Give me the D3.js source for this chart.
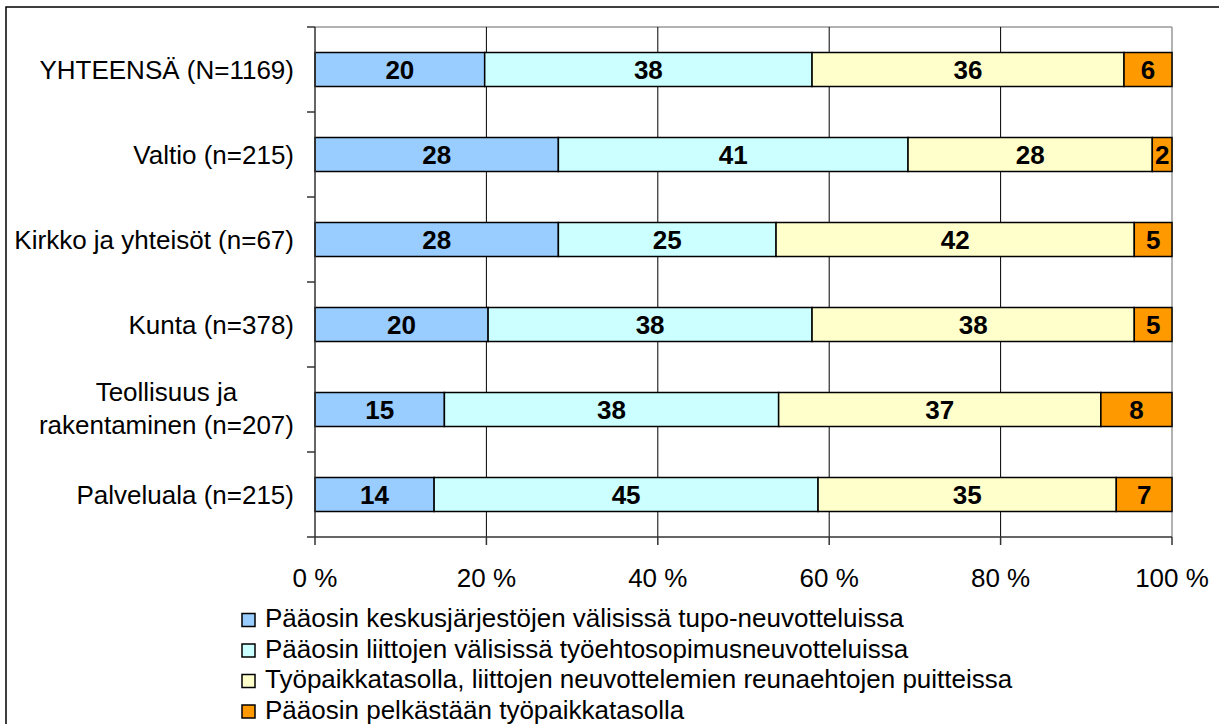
<!DOCTYPE html>
<html><head><meta charset="utf-8">
<script src="https://cdn.jsdelivr.net/npm/d3@7/dist/d3.min.js"></script>
<style>body{margin:0;background:#fff;} svg{display:block;font-family:"Liberation Sans",Arial,sans-serif;}</style>
</head><body>
<svg id="c" width="1219" height="724"></svg>
<script>
const categories = ["YHTEENSÄ (N=1169)", "Valtio (n=215)", "Kirkko ja yhteisöt (n=67)", "Kunta (n=378)", "Teollisuus ja rakentaminen (n=207)", "Palveluala (n=215)"];
const seriesNames = [
  "Pääosin keskusjärjestöjen välisissä tupo-neuvotteluissa",
  "Pääosin liittojen välisissä työehtosopimusneuvotteluissa",
  "Työpaikkatasolla, liittojen neuvottelemien reunaehtojen puitteissa",
  "Pääosin pelkästään työpaikkatasolla"
];
const seriesColors = ["#99CCFF", "#CCFFFF", "#FFFFCC", "#FF9900"];
// share of bar (%)
const keskus   = [19.8, 28.4, 28.4, 20.2, 15.1, 13.9];
const liitot   = [38.2, 40.8, 25.4, 37.8, 39.0, 44.8];
const tyopaikka= [36.4, 28.5, 41.8, 37.6, 37.6, 34.8];
const pelkka   = [5.6, 2.3, 4.4, 4.4, 8.3, 6.5];
// printed data labels
const keskusLbl   = [20, 28, 28, 20, 15, 14];
const liitotLbl   = [38, 41, 25, 38, 38, 45];
const tyopaikkaLbl= [36, 28, 42, 38, 37, 35];
const pelkkaLbl   = [6, 2, 5, 5, 8, 7];
const xTicks = [0, 20, 40, 60, 80, 100];

const FS = 26;
const svg = d3.select("#c");
const m = {l:315, r:1172, t:27, b:537};
const x = d3.scaleLinear().domain([0,100]).range([m.l, m.r]);
const y = d3.scaleBand().domain(categories).range([m.t, m.b]).paddingInner(0.6).paddingOuter(0.3);
const yb = d3.scaleBand().domain(categories).range([m.t, m.b]);

// outer frame
svg.append("rect").attr("x",6).attr("y",7).attr("width",1230).attr("height",740)
  .attr("fill","none").attr("stroke","#000").attr("stroke-width",1.5);

// plot border (top/right grey)
svg.append("line").attr("x1",m.l).attr("x2",m.r).attr("y1",m.t).attr("y2",m.t).attr("stroke","#999").attr("stroke-width",1.5);
svg.append("line").attr("x1",m.r).attr("x2",m.r).attr("y1",m.t).attr("y2",m.b).attr("stroke","#999").attr("stroke-width",1.5);

// gridlines
svg.append("g").selectAll("line").data(xTicks.filter(d=>d>0&&d<100)).join("line")
  .attr("x1",d=>x(d)).attr("x2",d=>x(d)).attr("y1",m.t).attr("y2",m.b)
  .attr("stroke","#000").attr("stroke-width",1);

// stacked bars
const rows = categories.map((c,i)=>({cat:c, vals:[keskus[i],liitot[i],tyopaikka[i],pelkka[i]], lbls:[keskusLbl[i],liitotLbl[i],tyopaikkaLbl[i],pelkkaLbl[i]]}));
const stack = d3.stack().keys([0,1,2,3]).value((d,k)=>d.vals[k]).offset(d3.stackOffsetExpand);
const layers = stack(rows);
layers.forEach((layer, k)=>{
  const g = svg.append("g");
  g.selectAll("rect").data(layer).join("rect")
    .attr("x",d=>x(d[0]*100)).attr("width",d=>x(d[1]*100)-x(d[0]*100))
    .attr("y",d=>y(d.data.cat)).attr("height",y.bandwidth())
    .attr("fill",seriesColors[k]).attr("stroke","#000").attr("stroke-width",1.5);
  g.selectAll("text").data(layer).join("text")
    .attr("x",d=>(x(d[0]*100)+x(d[1]*100))/2).attr("y",d=>y(d.data.cat)+y.bandwidth()/2)
    .attr("dy","0.36em").attr("text-anchor","middle")
    .attr("font-size",FS).attr("font-weight","bold").attr("fill","#000")
    .text(d=>d.data.lbls[k]);
});

// y axis
svg.append("line").attr("x1",m.l).attr("x2",m.l).attr("y1",m.t).attr("y2",m.b).attr("stroke","#333").attr("stroke-width",1.5);
const yTickPos = d3.range(categories.length+1).map(i=>m.t + i*yb.step());
svg.append("g").selectAll("line").data(yTickPos).join("line")
  .attr("x1",m.l-8).attr("x2",m.l).attr("y1",d=>d).attr("y2",d=>d).attr("stroke","#333").attr("stroke-width",1.5);

// x axis
svg.append("line").attr("x1",m.l).attr("x2",m.r).attr("y1",m.b).attr("y2",m.b).attr("stroke","#333").attr("stroke-width",1.5);
svg.append("g").selectAll("line").data(xTicks).join("line")
  .attr("x1",d=>x(d)).attr("x2",d=>x(d)).attr("y1",m.b).attr("y2",m.b+8).attr("stroke","#333").attr("stroke-width",1.5);
svg.append("g").selectAll("text").data(xTicks).join("text")
  .attr("x",d=>x(d)).attr("y",578).attr("dy","0.36em").attr("text-anchor","middle").attr("font-size",FS)
  .text(d=>d+" %");

// category labels
const catG = svg.append("g");
categories.forEach((c,i)=>{
  const cy = yb(c)+yb.bandwidth()/2;
  if (c.startsWith("Teollisuus")) {
    const l2 = catG.append("text").attr("x",294).attr("y",cy+15).attr("dy","0.36em").attr("text-anchor","end").attr("font-size",FS).text("rakentaminen (n=207)");
    const w = l2.node().getComputedTextLength();
    catG.append("text").attr("x",294 - w/2).attr("y",cy-18).attr("dy","0.36em").attr("text-anchor","middle").attr("font-size",FS).text("Teollisuus ja");
  } else {
    catG.append("text").attr("x",294).attr("y",cy).attr("dy","0.36em").attr("text-anchor","end").attr("font-size",FS).text(c);
  }
});

// legend
const lg = svg.append("g");
seriesNames.forEach((s,i)=>{
  const cy = 620 + i*30.5;
  lg.append("rect").attr("x",242).attr("y",cy-6.5).attr("width",13).attr("height",13)
    .attr("fill",seriesColors[i]).attr("stroke","#000").attr("stroke-width",1.5);
  lg.append("text").attr("x",265).attr("y",cy+7).attr("font-size",FS).text(s);
});
</script>
</body></html>
